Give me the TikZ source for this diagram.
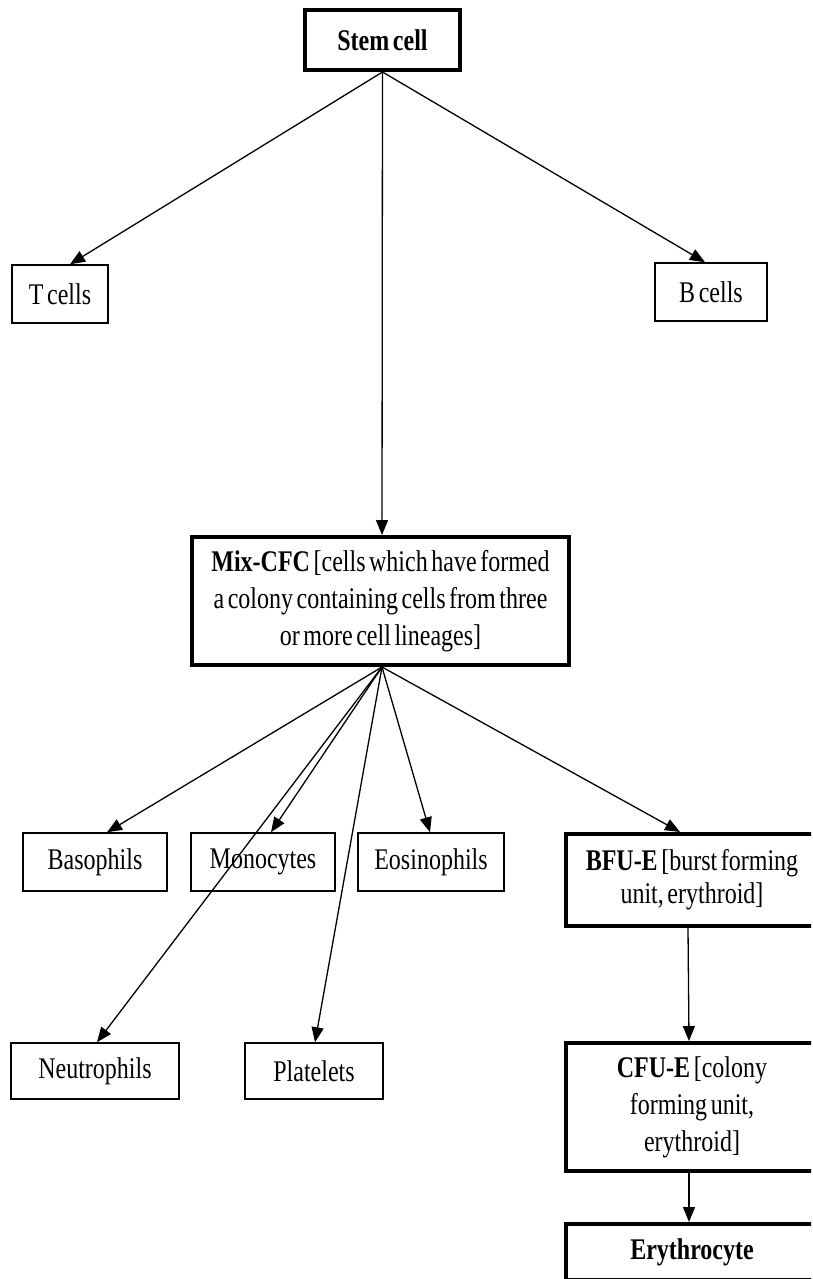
\documentclass[tikz,border=0pt]{standalone}
\usepackage{fontspec}
\setmainfont{Liberation Serif}[FakeStretch=0.8, WordSpace=0.6]
\usepackage{tikz}
\usetikzlibrary{arrows.meta,positioning}
\tikzset{
    base/.style={font=\fontsize{30}{37}\selectfont, align=center, inner sep=0pt},
    cell/.style={base, rectangle, draw, line width=1.5pt, fill=white},
    stage/.style={base, rectangle, draw, line width=4pt, fill=white},
    edgebox/.style={stage, minimum width=300pt},
    flow/.style={-{Triangle[length=15pt,width=12pt]}, line width=1.3pt}
}
% text of the boxes running off the right edge
\newcommand{\rtext}[1]{\parbox{252pt}{\centering #1}\hspace*{48pt}}

\begin{document}
\begin{tikzpicture}[x=1pt, y=-1pt]
  \path[use as bounding box] (0,0) rectangle (812,1279);
  \clip (0,0) rectangle (811,1279);

  % Stem cell and lymphoid branches
  \node[stage, minimum width=155pt, minimum height=60pt] (stem) at (382.5,40) {\textbf{Stem cell}};
  \node[cell, minimum width=96pt, minimum height=58pt] (tcells) at (60,294) {T cells};
  \node[cell, minimum width=112pt, minimum height=58pt] (bcells) at (711,292) {B cells};

  % Mixed colony
  \node[stage, minimum width=377pt, minimum height=128pt] (mix) at (380.5,601)
    {\textbf{Mix-CFC} [cells which have formed\\a colony containing cells from three\\or more cell lineages]};

  % Myeloid cells
  \node[cell, minimum width=144pt, minimum height=58pt] (baso) at (95,862) {Basophils};
  \node[cell, minimum width=144pt, minimum height=58pt] (mono) at (263,862) {Monocytes};
  \node[cell, minimum width=146pt, minimum height=58pt] (eosi) at (431,862) {Eosinophils};
  \node[cell, minimum width=168pt, minimum height=56pt] (neutro) at (95,1071) {Neutrophils};
  \node[cell, minimum width=138pt, minimum height=56pt] (plate) at (314,1071) {Platelets};

  % Erythroid line
  \node[edgebox, minimum height=92pt, anchor=west, font=\fontsize{30}{33}\selectfont] (bfue) at (564,880)
    {\rtext{\textbf{BFU-E} [burst forming\\unit, erythroid]}};
  \node[edgebox, minimum height=128pt, anchor=west] (cfue) at (564,1107)
    {\rtext{\textbf{CFU-E} [colony\\forming unit,\\erythroid]}};
  \node[edgebox, minimum height=56pt, anchor=north west] (ery) at (564,1222)
    {\rtext{\textbf{Erythrocyte}}};

  % Arrows from the stem cell
  \draw[flow] (stem.south) -- ([xshift=10pt]tcells.north);
  \draw[flow] (stem.south) -- ([xshift=-6pt]bcells.north);
  \draw[flow] (stem.south) -- ([xshift=1.5pt]mix.north);

  % Arrows from Mix-CFC
  \draw[flow] ([xshift=1.5pt]mix.south) -- ([xshift=12pt]baso.north);
  \draw[flow] ([xshift=1.5pt]mix.south) -- ([xshift=8pt]mono.north);
  \draw[flow] ([xshift=1.5pt]mix.south) -- ([xshift=2pt]neutro.north);
  \draw[flow] ([xshift=1.5pt]mix.south) -- ([xshift=1pt]plate.north);
  \draw[flow] ([xshift=1.5pt]mix.south) -- ([xshift=-1pt]eosi.north);
  \draw[flow] ([xshift=1.5pt]mix.south) -- ([xshift=116pt]bfue.north west);

  % Erythroid steps
  \draw[flow] ([xshift=124pt]bfue.south west) -- ([xshift=125pt]cfue.north west);
  \draw[flow] ([xshift=125pt]cfue.south west) -- ([xshift=125pt]ery.north west);
\end{tikzpicture}
\end{document}
